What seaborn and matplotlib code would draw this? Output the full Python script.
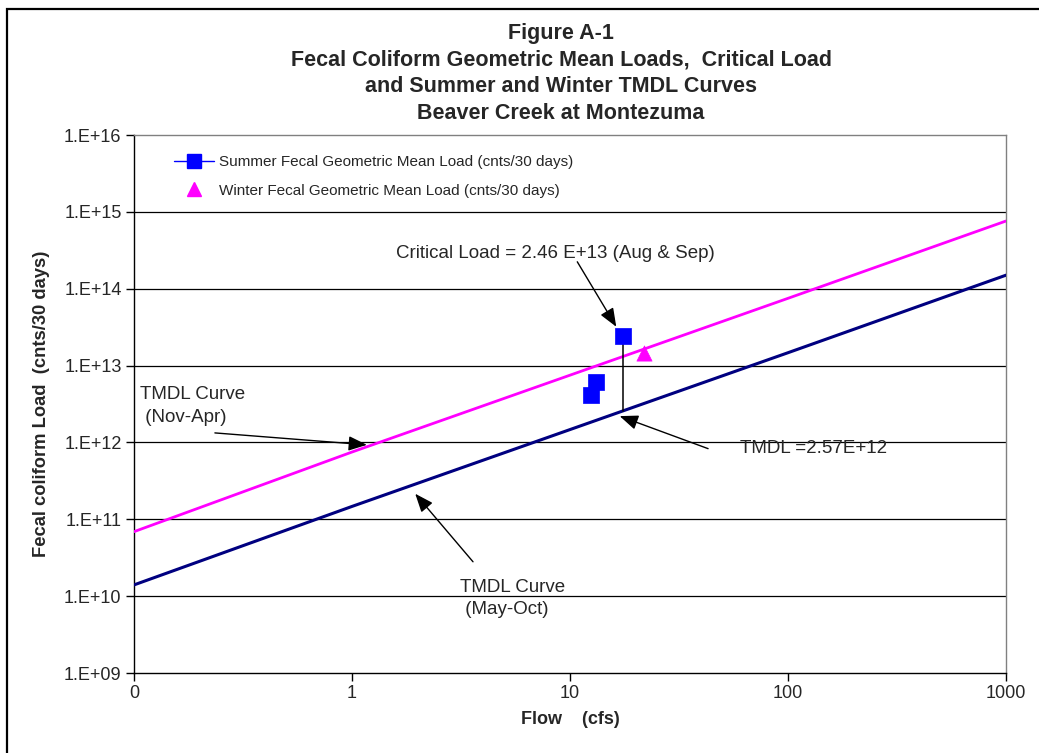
import numpy as np
import pandas as pd
import matplotlib
matplotlib.use("Agg")
import matplotlib.pyplot as plt
from matplotlib.lines import Line2D
from matplotlib.patches import Rectangle
from matplotlib.ticker import FixedLocator, FixedFormatter
import seaborn as sns

# TMDL curves (flow in cfs, load in counts / 30 days)
curve_flow = [0.1, 1, 10, 100, 1000]
summer_tmdl = [1.4e10, 1.47e11, 1.47e12, 1.47e13, 1.5e14]
winter_tmdl = [6.9e10, 7.5e11, 7.5e12, 7.5e13, 7.6e14]

# Observed geometric mean loads
summer_flow = [12.5, 13.1, 17.5]
summer_load = [4.2e12, 6.2e12, 2.46e13]
winter_flow = [21.8]
winter_load = [1.46e13]

# Critical condition
critical_flow = 17.5
critical_load = 2.46e13
critical_tmdl = 2.57e12

x_ticks = [0.1, 1, 10, 100, 1000]
x_labels = ["0", "1", "10", "100", "1000"]
y_exps = list(range(9, 17))
y_ticks = [10.0 ** e for e in y_exps]
y_labels = [f"1.E+{e:02d}" for e in y_exps]

sns.set_style("white")
plt.rcParams["font.family"] = ["Liberation Sans", "DejaVu Sans"]

fig = plt.figure(figsize=(10.39, 7.53), dpi=100)
ax = fig.add_axes([134 / 1039, 1 - 673 / 753, (1006 - 134) / 1039, (673 - 135) / 753])

curves = pd.DataFrame({"flow": curve_flow, "summer": summer_tmdl, "winter": winter_tmdl})
sns.lineplot(data=curves, x="flow", y="winter", ax=ax, color="#FF00FF", lw=2.0, zorder=3)
sns.lineplot(data=curves, x="flow", y="summer", ax=ax, color="#000080", lw=2.2, zorder=3)

# critical load drop line
ax.plot([critical_flow, critical_flow], [critical_tmdl, critical_load], color="black", lw=1.1, zorder=4)

sns.scatterplot(x=summer_flow, y=summer_load, ax=ax, marker="s", s=120, color="#0000FF",
                edgecolor="#0000FF", linewidth=0.5, zorder=5)
sns.scatterplot(x=winter_flow, y=winter_load, ax=ax, marker="^", s=120, color="#FF00FF",
                edgecolor="#FF00FF", linewidth=0.5, zorder=5)

ax.set_xscale("log")
ax.set_yscale("log")
ax.set_xlim(0.1, 1000)
ax.set_ylim(1e9, 1e16)
ax.xaxis.set_major_locator(FixedLocator(x_ticks))
ax.xaxis.set_major_formatter(FixedFormatter(x_labels))
ax.xaxis.set_minor_locator(FixedLocator([]))
ax.yaxis.set_major_locator(FixedLocator(y_ticks))
ax.yaxis.set_major_formatter(FixedFormatter(y_labels))
ax.yaxis.set_minor_locator(FixedLocator([]))
ax.tick_params(axis="both", which="major", direction="out", length=6, width=1,
               color="black", labelsize=13, pad=3, bottom=True, left=True)
ax.tick_params(axis="x", pad=3)

for e in y_exps[1:-1]:
    ax.axhline(10.0 ** e, color="black", lw=0.9, zorder=1)

for side in ["left", "bottom"]:
    ax.spines[side].set_color("black")
    ax.spines[side].set_linewidth(1.0)
for side in ["top", "right"]:
    ax.spines[side].set_color("#808080")
    ax.spines[side].set_linewidth(1.0)

ax.set_xlabel("Flow    (cfs)", fontsize=13, fontweight="bold", labelpad=6)
ax.set_ylabel("Fecal coliform Load  (cnts/30 days)", fontsize=13.2, fontweight="bold", labelpad=10)

fig.text(0.54, 1 - 73.5 / 753,
         "Figure A-1\nFecal Coliform Geometric Mean Loads,  Critical Load\n"
         "and Summer and Winter TMDL Curves\nBeaver Creek at Montezuma",
         ha="center", va="center", fontsize=15.5, fontweight="bold", linespacing=1.36)

handles = [
    Line2D([0], [0], color="#0000FF", lw=1, marker="s", markersize=10,
           markerfacecolor="#0000FF", markeredgecolor="#0000FF"),
    Line2D([0], [0], color="none", marker="^", markersize=10,
           markerfacecolor="#FF00FF", markeredgecolor="#FF00FF"),
]
ax.legend(handles, ["Summer Fecal Geometric Mean Load (cnts/30 days)",
                    "Winter Fecal Geometric Mean Load (cnts/30 days)"],
          loc="upper left", bbox_to_anchor=(0.03, 0.988), frameon=False,
          fontsize=11, handlelength=2.6, labelspacing=0.95, handletextpad=0.35)

arrow_kw = dict(arrowstyle="-|>,head_length=0.75,head_width=0.3", color="black",
                lw=1.0, mutation_scale=15, shrinkA=0, shrinkB=0)

ax.text(8.6, 2.9e14, "Critical Load = 2.46 E+13 (Aug & Sep)", ha="center", va="center", fontsize=13.5)
ax.annotate("", xy=(16.3, 3.2e13), xytext=(10.8, 2.24e14), arrowprops=arrow_kw)

ax.text(0.1066, 2.95e12, "TMDL Curve\n (Nov-Apr)", ha="left", va="center", fontsize=13.5,
        linespacing=1.45)
ax.annotate("", xy=(1.17, 9.3e11), xytext=(0.235, 1.33e12), arrowprops=arrow_kw)

ax.text(3.13, 0.93e10, "TMDL Curve\n (May-Oct)", ha="left", va="center", fontsize=13.5,
        linespacing=1.45)
ax.annotate("", xy=(1.95, 2.15e11), xytext=(3.59, 2.8e10), arrowprops=arrow_kw)

ax.text(60, 8.3e11, "TMDL =2.57E+12", ha="left", va="center", fontsize=13.5)
ax.annotate("", xy=(16.9, 2.2e12), xytext=(43, 8.3e11), arrowprops=arrow_kw)

# outer chart frame
fig.patches.append(Rectangle((7 / 1039, -0.05), 1.2, 1 - 9 / 753 + 0.05,
                             transform=fig.transFigure, fill=False,
                             edgecolor="black", lw=1.6, zorder=0))

fig.savefig("out.png", dpi=100)
